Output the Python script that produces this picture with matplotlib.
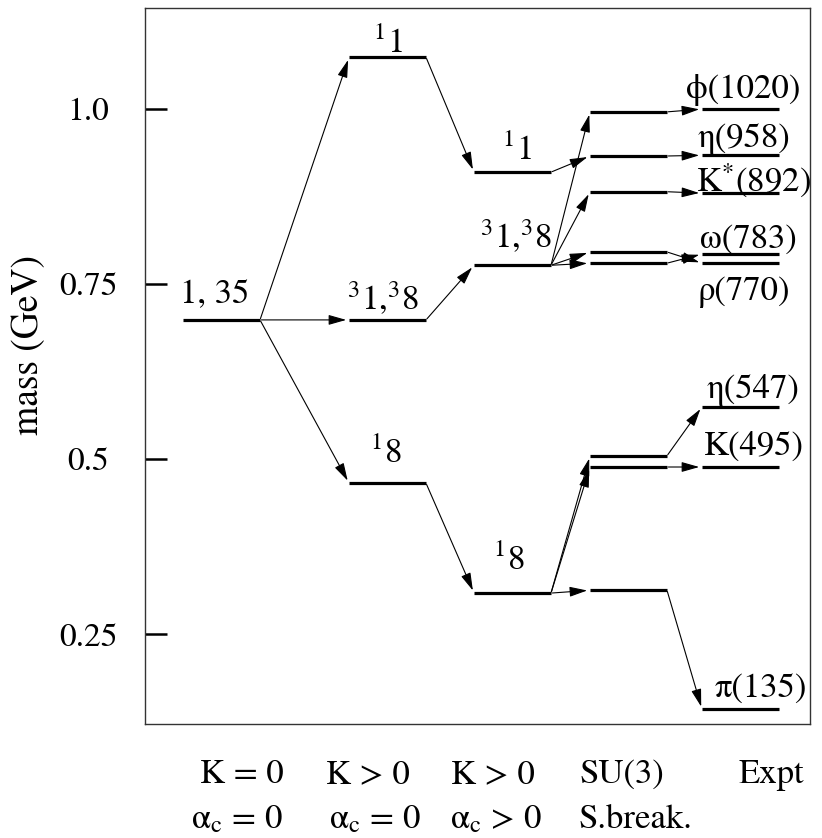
import matplotlib
matplotlib.use('Agg')
import matplotlib.pyplot as plt

plt.rcParams['font.family'] = ['STIXGeneral', 'DejaVu Serif']
plt.rcParams['mathtext.fontset'] = 'stix'

# level masses (GeV), one list per column
k0_mass = [0.699]
k0_labels = ['1, 35']
k1_mass = [1.074, 0.699, 0.466]
k1_labels = [r'$^{1}$1', r'$^{3}$1,$^{3}$8', r'$^{1}$8']
ac_mass = [0.910, 0.777, 0.309]
ac_labels = [r'$^{1}$1', r'$^{3}$1,$^{3}$8', r'$^{1}$8']
su3_mass = [0.996, 0.933, 0.882, 0.796, 0.780, 0.505, 0.489, 0.313]
expt_mass = [1.000, 0.934, 0.880, 0.793, 0.780, 0.575, 0.489, 0.143]
expt_labels = ['ϕ(1020)', 'η(958)', r'K$^{*}$(892)', 'ω(783)', 'ρ(770)',
               'η(547)', 'K(495)', 'π(135)']

# arrows: (column, level) -> (column, level)
transitions = [
    ((0, 0), (1, 0)), ((0, 0), (1, 1)), ((0, 0), (1, 2)),
    ((1, 0), (2, 0)), ((1, 1), (2, 1)), ((1, 2), (2, 2)),
    ((2, 0), (3, 1)),
    ((2, 1), (3, 0)), ((2, 1), (3, 2)), ((2, 1), (3, 3)), ((2, 1), (3, 4)),
    ((2, 2), (3, 5)), ((2, 2), (3, 6)), ((2, 2), (3, 7)),
    ((3, 0), (4, 0)), ((3, 1), (4, 1)), ((3, 2), (4, 2)),
    ((3, 3), (4, 4)), ((3, 4), (4, 3)),
    ((3, 5), (4, 5)), ((3, 6), (4, 6)), ((3, 7), (4, 7)),
]

col_titles = ['K = 0', 'K > 0', 'K > 0', 'SU(3)', 'Expt']
col_sub = [r'α$_\mathrm{c}$ = 0', r'α$_\mathrm{c}$ = 0', r'α$_\mathrm{c}$ > 0', 'S.break.']
yticks = [0.25, 0.5, 0.75, 1.0]
ytick_labels = ['0.25', '0.5', '0.75', '1.0']

masses = [k0_mass, k1_mass, ac_mass, su3_mass, expt_mass]
labels = [k0_labels, k1_labels, ac_labels, [''] * len(su3_mass), expt_labels]

# layout (pixels)
W, H = 822, 838
col_left = [183, 349, 474, 590, 702]
bar_w = 77
label_off = [
    [(-7, 17)],
    [(0, 4), (-4, 10), (-2, 20)],
    [(4, 12), (4, 17), (-4, 23)],
    [(0, 0)] * 8,
    [(3, 11), (3, 8), (13, 1), (8, 6), (3, -37), (13, 9), (13, 12), (20, 12)],
]

fig = plt.figure(figsize=(W / 100, H / 100), dpi=100)
ax = fig.add_axes([145 / W, 1 - 724 / H, 665 / W, 716 / H])
ax.set_xlim(145, 810)
ax.set_ylim(0.1221, 1.1443)

for c, col in enumerate(masses):
    x0 = col_left[c]
    for i, m in enumerate(col):
        ax.plot([x0, x0 + bar_w], [m, m], color='black', lw=2.3, solid_capstyle='butt')
        if labels[c][i]:
            dx, dy = label_off[c][i]
            ax.annotate(labels[c][i], xy=(x0 + bar_w / 2, m), xytext=(dx, dy),
                        textcoords='offset pixels', ha='center', va='baseline',
                        fontsize=25)

for (c1, i1), (c2, i2) in transitions:
    start = (col_left[c1] + bar_w, masses[c1][i1])
    end = (col_left[c2], masses[c2][i2])
    ax.annotate('', xy=end, xytext=start,
                arrowprops=dict(arrowstyle='-|>,head_length=0.6,head_width=0.17',
                                mutation_scale=18, lw=0.8, color='black',
                                shrinkA=1, shrinkB=2))

ax.set_yticks(yticks)
ax.set_yticklabels(ytick_labels)
ax.tick_params(axis='y', direction='in', length=16, width=1.8, pad=41, labelsize=24)
for t in ax.get_yticklabels():
    t.set_ha('center')
ax.set_xticks([])
for s in ax.spines.values():
    s.set_color('#333333')
    s.set_linewidth(1.0)

fig.text(29 / W, 1 - 345 / H, 'mass (GeV)', rotation=90, ha='center', va='center', fontsize=27)

row1_x = [242, 368, 493, 622, 771]
row2_x = [237, 375, 496, 635]
for x, t in zip(row1_x, col_titles):
    fig.text(x / W, 1 - 783 / H, t, ha='center', va='baseline', fontsize=25)
for x, t in zip(row2_x, col_sub):
    fig.text(x / W, 1 - 828 / H, t, ha='center', va='baseline', fontsize=25)

fig.savefig('out.png', dpi=100)
